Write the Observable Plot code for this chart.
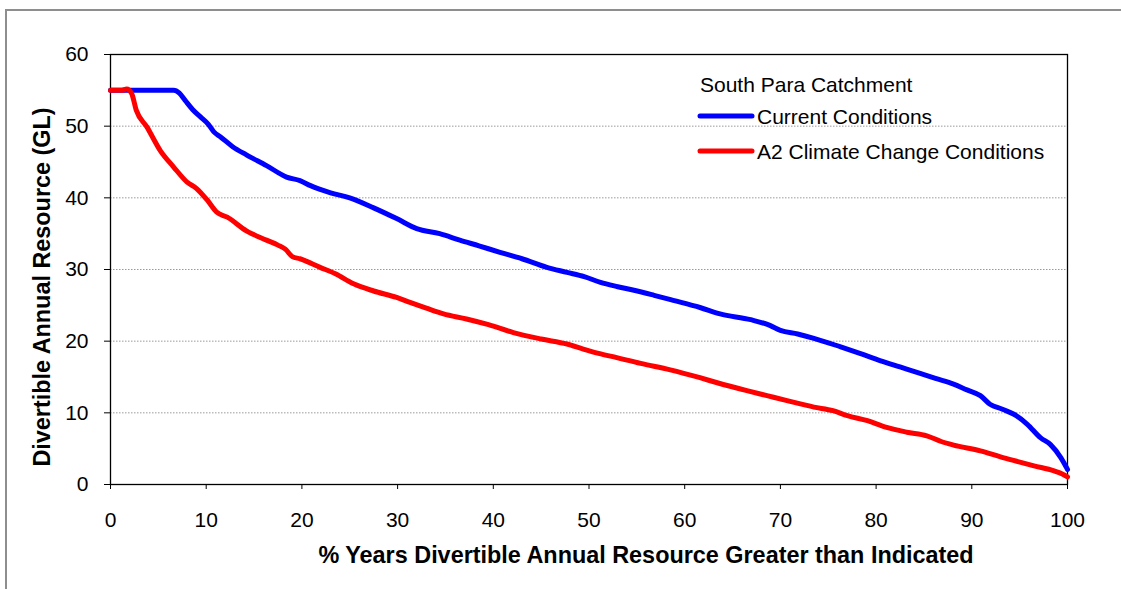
<!DOCTYPE html>
<html>
<head>
<meta charset="utf-8">
<script src="https://cdn.jsdelivr.net/npm/d3@7"></script>
<script src="https://cdn.jsdelivr.net/npm/@observablehq/plot@0.6"></script>
<style>
  html, body { margin: 0; padding: 0; background: #fff; overflow: hidden; }
  #wrap { position: relative; width: 1121px; height: 589px; overflow: hidden; }
  #border { position: absolute; left: 5px; top: 9px; width: 2000px; height: 2000px;
            border-top: 2px solid #8e8e8e; border-left: 2px solid #8e8e8e; }
  #chart { position: absolute; left: 0; top: 0; }
</style>
</head>
<body>
<div id="wrap"><div id="border"></div><div id="chart"></div></div>
<script>
// ---- data ----
const currentX = [0, 6.6, 7.2, 7.8, 8.6, 9.4, 10.2, 10.8, 11.5, 12.8, 14.2, 16.3, 18.4, 19.8, 20.9, 23, 25, 27.5, 29.9, 32, 34.4, 36.5, 38.5, 40.7, 43, 45.6, 47.7, 49.5, 51.2, 53, 54.7, 56.8, 58.8, 61.6, 63.7, 66.9, 68.9, 70, 71.8, 73.5, 76.3, 78.3, 80.4, 82.5, 84.6, 86.2, 88.1, 89.5, 90.9, 91.9, 93.2, 94.4, 95.8, 97.2, 98.2, 99.3, 100];
const currentY = [55, 55, 54.6, 53.6, 52.3, 51.3, 50.3, 49.2, 48.5, 47.1, 46, 44.5, 42.9, 42.4, 41.7, 40.7, 40.0, 38.6, 37.1, 35.7, 35.0, 34.1, 33.3, 32.4, 31.5, 30.3, 29.6, 29.0, 28.2, 27.6, 27.1, 26.4, 25.7, 24.7, 23.8, 23.0, 22.2, 21.5, 21.0, 20.4, 19.2, 18.3, 17.3, 16.4, 15.5, 14.8, 14.0, 13.2, 12.4, 11.2, 10.5, 9.8, 8.4, 6.5, 5.6, 3.75, 2.1];

const a2X = [0, 1.2, 1.7, 2.2, 2.7, 3.8, 5.2, 6.6, 8.0, 9.0, 10.1, 11.1, 12.2, 14.2, 16.3, 17.5, 18.3, 19.0, 19.8, 21.9, 23.5, 25.4, 27.5, 29.9, 31.3, 33, 34.8, 37.2, 39.5, 42.1, 45, 47.7, 49.4, 51, 52.9, 55.4, 58.5, 61.6, 63.4, 66.5, 68.6, 70.7, 73.5, 75.5, 77.0, 79.1, 81, 83.2, 85.3, 86.8, 88.1, 90.9, 93.0, 94.8, 96.5, 98.6, 99.4, 100];
const a2Y = [55, 55, 55.2, 54.6, 52.2, 49.9, 46.6, 44.3, 42.2, 41.3, 39.7, 38.0, 37.3, 35.4, 34.1, 33.4, 32.8, 31.8, 31.5, 30.3, 29.4, 28.0, 27.0, 26.1, 25.4, 24.6, 23.8, 23.1, 22.3, 21.2, 20.3, 19.6, 18.9, 18.3, 17.7, 16.9, 16.0, 14.9, 14.2, 13.1, 12.4, 11.7, 10.8, 10.3, 9.6, 8.9, 8.0, 7.3, 6.8, 6.0, 5.5, 4.7, 3.85, 3.2, 2.6, 1.9, 1.5, 1.05];

const seriesNames = ["Current Conditions", "A2 Climate Change Conditions"];
const seriesColors = ["#0000ff", "#ff0000"];
const legendTitle = "South Para Catchment";
const xTicks = [0, 10, 20, 30, 40, 50, 60, 70, 80, 90, 100];
const yTicks = [0, 10, 20, 30, 40, 50, 60];
const gridTicks = [10, 20, 30, 40, 50];
const xTitle = "% Years Divertible Annual Resource Greater than Indicated";
const yTitle = "Divertible Annual Resource (GL)";

// ---- build ----
const current = currentX.map((x, i) => ({x, y: currentY[i]}));
const a2 = a2X.map((x, i) => ({x, y: a2Y[i]}));
const FONT = "Arial, 'Liberation Sans', sans-serif";

const chart = Plot.plot({
  width: 1121,
  height: 589,
  marginLeft: 110,
  marginRight: 54,
  marginTop: 54,
  marginBottom: 105,
  x: {domain: [0, 100]},
  y: {domain: [0, 60]},
  style: {fontFamily: FONT, fontSize: "20px", color: "#000", background: "transparent", overflow: "visible"},
  marks: [
    Plot.gridY(gridTicks, {stroke: "#9a9a9a", strokeOpacity: 1, strokeDasharray: "1.5,1.5"}),
    Plot.axisX(xTicks, {tickSize: 5, tickPadding: 23, label: null, fontSize: 21, stroke: "#000"}),
    Plot.axisY(yTicks, {tickSize: 6, tickPadding: 16, label: null, fontSize: 21, stroke: "#000"}),
    Plot.frame({stroke: "#000", strokeWidth: 1.3}),
    Plot.line(current, {x: "x", y: "y", stroke: seriesColors[0], strokeWidth: 5, curve: "monotone-x", strokeLinejoin: "round", strokeLinecap: "round"}),
    Plot.line(a2, {x: "x", y: "y", stroke: seriesColors[1], strokeWidth: 5, curve: "monotone-x", strokeLinejoin: "round", strokeLinecap: "round"}),
    Plot.text([xTitle], {frameAnchor: "bottom", text: d => d, textAnchor: "middle", lineAnchor: "bottom", fontSize: 23.4, fontWeight: "bold", dx: 57, dy: 78}),
    Plot.text([yTitle], {frameAnchor: "left", text: d => d, textAnchor: "middle", lineAnchor: "bottom", rotate: -90, fontSize: 23.4, fontWeight: "bold", dx: -60.5, dy: 17.5})
  ]
});

// legend (inside plot area, upper right)
const svg = d3.select(chart);
const lg = svg.append("g").attr("font-family", FONT).attr("font-size", 21)
  .attr("fill", "#000").attr("text-anchor", "start");
lg.append("text").attr("x", 700).attr("y", 92).text(legendTitle);
seriesNames.forEach((name, i) => {
  const cy = 116 + i * 35;
  lg.append("line").attr("x1", 700).attr("x2", 752).attr("y1", cy).attr("y2", cy)
    .attr("stroke", seriesColors[i]).attr("stroke-width", 5).attr("stroke-linecap", "round");
  lg.append("text").attr("x", 757).attr("y", cy + 8).text(name);
});

document.getElementById("chart").appendChild(chart);
</script>
</body>
</html>
